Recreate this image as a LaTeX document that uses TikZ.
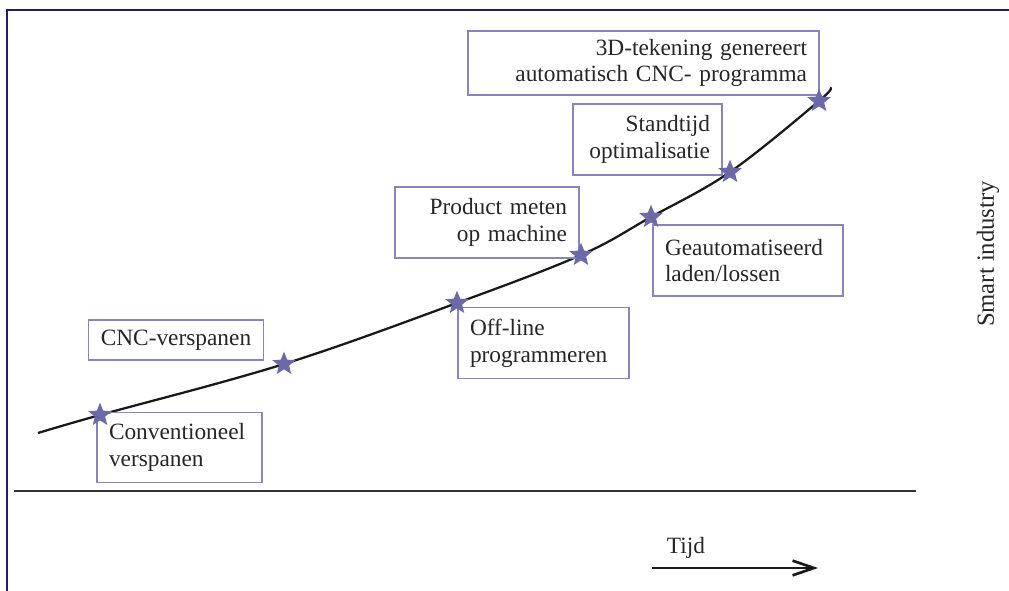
\documentclass[tikz,border=0pt]{standalone}
\usepackage{fontspec}
\setmainfont{Liberation Serif}
\usepackage{tikz}
\usetikzlibrary{shapes}
\usetikzlibrary{arrows,arrows.meta}
\definecolor{framecol}{HTML}{231C6B}
\definecolor{boxcol}{HTML}{8884BC}
\definecolor{starcol}{HTML}{6C69A8}
\tikzset{
	stepnode/.style = {
		rectangle,
		draw=boxcol,
		line width=0.9pt,
		inner xsep=9pt,
		inner ysep=0pt,
		font=\fontsize{17.5}{20}\selectfont,
		text=black!85
	},
	node_left/.style = {
		stepnode,
		align=left
	},
	node_right/.style = {
		stepnode,
		align=right
	},
	node_star/.style = {
		star,
		star points=5,
		star point ratio=2.3,
		fill=starcol,
		draw=none,
		inner sep=0pt,
		minimum size=18.5pt
	},
}

\begin{document}
\begin{tikzpicture}[x=0.75pt,y=-0.75pt,>={Straight Barb[length=16pt,width=11pt]}]
\useasboundingbox (0,0) rectangle (1009,591);
% frame
\draw[framecol,line width=1.6pt] (7,591) -- (7,10) -- (1009,10);
% axis
\draw[black!80,line width=1.1pt] (14,491) -- (916,491);
% curve
\coordinate (c_start) at (38,433);
\coordinate (c_end) at (830,88);
\coordinate (s1) at (100,415);
\coordinate (s2) at (284,364);
\coordinate (s3) at (457,303);
\coordinate (s4) at (581,255);
\coordinate (s5) at (651,217);
\coordinate (s6) at (730,172);
\coordinate (s7) at (819,101);
\draw[black!90,line width=1.7pt] plot[smooth,tension=0.6] coordinates {(c_start) (s1) (s2) (s3) (s4) (s5) (s6) (s7) (c_end)};
% boxes
\node [node_left, minimum width=165*0.75pt, minimum height=70*0.75pt, text width=141*0.75pt] (conv) at (179.5,447.5) {Conventioneel\\verspanen};
\node [stepnode, minimum width=172*0.75pt, minimum height=40*0.75pt] (cnc) at (176,340) {CNC-verspanen};
\node [node_left, minimum width=171*0.75pt, minimum height=71*0.75pt, text width=147*0.75pt] (offline) at (543.5,343) {Off-line\\programmeren};
\node [node_right, minimum width=184*0.75pt, minimum height=71*0.75pt, text width=160*0.75pt] (meten) at (487,222.5) {Product meten\\op machine};
\node [node_left, minimum width=190*0.75pt, minimum height=71*0.75pt, text width=166*0.75pt] (laden) at (748,260.5) {Geautomatiseerd\\laden/lossen};
\node [node_right, minimum width=149*0.75pt, minimum height=71*0.75pt, text width=125*0.75pt] (standtijd) at (647.5,139.5) {Standtijd\\optimalisatie};
\node [node_right, minimum width=351*0.75pt, minimum height=64*0.75pt, text width=327*0.75pt] (cad) at (643.5,63) {3D-tekening genereert\\automatisch CNC- programma};
% stars
\foreach \s in {s1,s2,s3,s4,s5,s6,s7}
	\node [node_star] at (\s) {};
% time
\coordinate (t_start) at (652,568);
\coordinate (t_end) at (818,568);
\draw[->,black!90,line width=2pt] (t_start) -- (t_end);
\node [font=\fontsize{17.5}{20}\selectfont, text=black!85] (tijd) at (686,548) {Tijd};
\node [font=\fontsize{18.5}{20}\selectfont, text=black!85, rotate=90] (smart) at (988,254) {Smart industry};
\end{tikzpicture}
\end{document}
